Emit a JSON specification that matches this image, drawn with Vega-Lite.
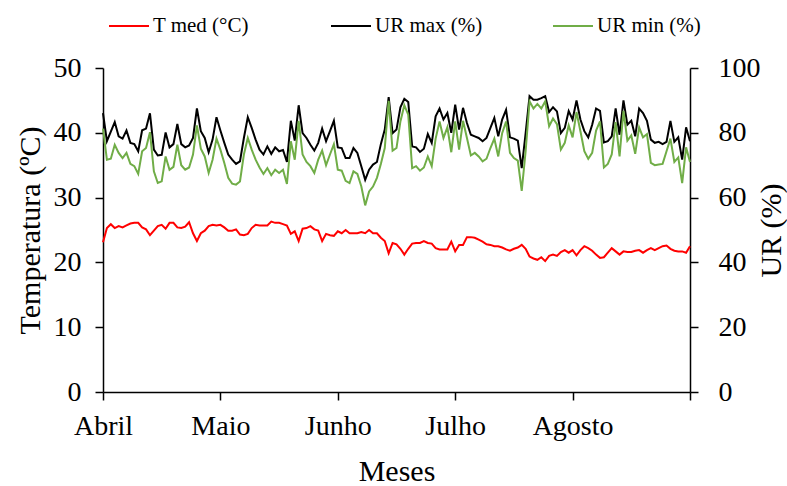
{
  "$schema": "https://vega.github.io/schema/vega-lite/v6.json",
  "width": 587,
  "height": 324,
  "autosize": {"type": "none"},
  "padding": {"left": 103, "top": 68, "right": 97, "bottom": 94},
  "background": "white",
  "config": {
    "view": {"stroke": null},
    "font": "Liberation Serif",
    "axis": {
      "grid": false,
      "domainColor": "black",
      "domainWidth": 1.5,
      "tickColor": "black",
      "tickWidth": 1.5,
      "tickSize": 8,
      "labelColor": "black",
      "titleColor": "black",
      "labelFont": "Liberation Serif",
      "titleFont": "Liberation Serif",
      "labelFontSize": 28,
      "titleFontSize": 30,
      "titleFontWeight": "normal"
    }
  },
  "data": {
    "values": [
      {"d": 0, "T": 23.1, "max": 86.1, "min": 81.3},
      {"d": 1, "T": 25.3, "max": 77.4, "min": 71.7},
      {"d": 2, "T": 25.9, "max": 80.4, "min": 72.0},
      {"d": 3, "T": 25.3, "max": 83.3, "min": 76.3},
      {"d": 4, "T": 25.6, "max": 78.9, "min": 73.8},
      {"d": 5, "T": 25.4, "max": 78.2, "min": 72.2},
      {"d": 6, "T": 25.7, "max": 80.7, "min": 73.8},
      {"d": 7, "T": 26.0, "max": 76.9, "min": 70.4},
      {"d": 8, "T": 26.1, "max": 76.5, "min": 69.7},
      {"d": 9, "T": 26.1, "max": 74.3, "min": 67.3},
      {"d": 10, "T": 25.4, "max": 80.8, "min": 74.3},
      {"d": 11, "T": 25.1, "max": 81.3, "min": 75.3},
      {"d": 12, "T": 24.2, "max": 86.0, "min": 80.2},
      {"d": 13, "T": 24.9, "max": 74.8, "min": 68.1},
      {"d": 14, "T": 25.6, "max": 73.0, "min": 64.5},
      {"d": 15, "T": 25.8, "max": 73.2, "min": 65.0},
      {"d": 16, "T": 25.2, "max": 80.1, "min": 72.7},
      {"d": 17, "T": 26.1, "max": 75.5, "min": 68.6},
      {"d": 18, "T": 26.1, "max": 76.5, "min": 69.5},
      {"d": 19, "T": 25.4, "max": 82.7, "min": 76.3},
      {"d": 20, "T": 25.3, "max": 76.5, "min": 70.0},
      {"d": 21, "T": 25.5, "max": 75.5, "min": 68.6},
      {"d": 22, "T": 26.2, "max": 76.1, "min": 69.3},
      {"d": 23, "T": 24.5, "max": 78.4, "min": 73.3},
      {"d": 24, "T": 23.3, "max": 87.5, "min": 82.3},
      {"d": 25, "T": 24.5, "max": 80.5, "min": 75.1},
      {"d": 26, "T": 24.9, "max": 78.4, "min": 72.7},
      {"d": 27, "T": 25.6, "max": 74.0, "min": 67.6},
      {"d": 28, "T": 25.8, "max": 77.9, "min": 71.7},
      {"d": 29, "T": 25.7, "max": 84.8, "min": 78.2},
      {"d": 30, "T": 25.8, "max": 80.7, "min": 74.8},
      {"d": 31, "T": 25.4, "max": 76.9, "min": 70.7},
      {"d": 32, "T": 24.9, "max": 73.3, "min": 66.1},
      {"d": 33, "T": 24.9, "max": 71.7, "min": 64.3},
      {"d": 34, "T": 25.1, "max": 70.4, "min": 64.0},
      {"d": 35, "T": 24.3, "max": 71.2, "min": 65.0},
      {"d": 36, "T": 24.2, "max": 78.4, "min": 73.3},
      {"d": 37, "T": 24.4, "max": 84.8, "min": 78.4},
      {"d": 38, "T": 25.3, "max": 81.5, "min": 74.8},
      {"d": 39, "T": 25.8, "max": 77.9, "min": 71.7},
      {"d": 40, "T": 25.7, "max": 74.8, "min": 69.3},
      {"d": 41, "T": 25.7, "max": 73.3, "min": 67.3},
      {"d": 42, "T": 25.7, "max": 75.8, "min": 69.1},
      {"d": 43, "T": 26.3, "max": 73.5, "min": 66.9},
      {"d": 44, "T": 26.1, "max": 75.5, "min": 68.6},
      {"d": 45, "T": 26.1, "max": 74.3, "min": 67.6},
      {"d": 46, "T": 25.9, "max": 74.7, "min": 68.6},
      {"d": 47, "T": 25.7, "max": 71.0, "min": 64.2},
      {"d": 48, "T": 24.4, "max": 83.7, "min": 77.4},
      {"d": 49, "T": 24.8, "max": 77.6, "min": 71.7},
      {"d": 50, "T": 23.3, "max": 88.5, "min": 83.7},
      {"d": 51, "T": 25.2, "max": 79.9, "min": 73.3},
      {"d": 52, "T": 25.3, "max": 78.4, "min": 71.0},
      {"d": 53, "T": 25.6, "max": 76.3, "min": 69.7},
      {"d": 54, "T": 25.1, "max": 74.5, "min": 67.6},
      {"d": 55, "T": 24.9, "max": 76.9, "min": 71.7},
      {"d": 56, "T": 23.3, "max": 81.3, "min": 74.5},
      {"d": 57, "T": 24.4, "max": 77.4, "min": 70.0},
      {"d": 58, "T": 24.2, "max": 80.5, "min": 73.3},
      {"d": 59, "T": 24.1, "max": 83.7, "min": 76.5},
      {"d": 60, "T": 24.8, "max": 75.5, "min": 68.6},
      {"d": 61, "T": 24.5, "max": 75.3, "min": 68.3},
      {"d": 62, "T": 25.0, "max": 72.2, "min": 65.2},
      {"d": 63, "T": 24.5, "max": 72.2, "min": 64.5},
      {"d": 64, "T": 24.5, "max": 75.3, "min": 68.1},
      {"d": 65, "T": 24.5, "max": 73.8, "min": 67.3},
      {"d": 66, "T": 24.7, "max": 69.7, "min": 63.5},
      {"d": 67, "T": 24.5, "max": 65.5, "min": 57.6},
      {"d": 68, "T": 25.0, "max": 68.6, "min": 61.9},
      {"d": 69, "T": 24.5, "max": 70.2, "min": 63.4},
      {"d": 70, "T": 24.5, "max": 71.0, "min": 66.1},
      {"d": 71, "T": 23.8, "max": 76.5, "min": 70.4},
      {"d": 72, "T": 23.3, "max": 81.0, "min": 75.3},
      {"d": 73, "T": 21.4, "max": 91.0, "min": 89.9},
      {"d": 74, "T": 23.0, "max": 79.9, "min": 74.5},
      {"d": 75, "T": 22.8, "max": 81.0, "min": 75.3},
      {"d": 76, "T": 22.1, "max": 87.9, "min": 83.5},
      {"d": 77, "T": 21.2, "max": 90.5, "min": 88.5},
      {"d": 78, "T": 22.1, "max": 89.5, "min": 85.6},
      {"d": 79, "T": 22.9, "max": 75.8, "min": 69.1},
      {"d": 80, "T": 23.0, "max": 75.5, "min": 69.7},
      {"d": 81, "T": 23.0, "max": 74.1, "min": 68.3},
      {"d": 82, "T": 23.3, "max": 75.1, "min": 69.3},
      {"d": 83, "T": 23.0, "max": 79.6, "min": 72.7},
      {"d": 84, "T": 22.9, "max": 76.9, "min": 69.7},
      {"d": 85, "T": 22.2, "max": 85.1, "min": 78.2},
      {"d": 86, "T": 22.0, "max": 87.5, "min": 83.5},
      {"d": 87, "T": 22.0, "max": 84.1, "min": 78.4},
      {"d": 88, "T": 22.0, "max": 86.1, "min": 81.7},
      {"d": 89, "T": 23.2, "max": 80.0, "min": 74.0},
      {"d": 90, "T": 21.7, "max": 88.7, "min": 83.5},
      {"d": 91, "T": 22.7, "max": 81.0, "min": 74.8},
      {"d": 92, "T": 22.7, "max": 87.7, "min": 83.7},
      {"d": 93, "T": 23.9, "max": 83.0, "min": 78.4},
      {"d": 94, "T": 23.9, "max": 79.4, "min": 73.0},
      {"d": 95, "T": 23.8, "max": 78.9, "min": 73.8},
      {"d": 96, "T": 23.5, "max": 78.4, "min": 72.7},
      {"d": 97, "T": 23.2, "max": 77.4, "min": 71.2},
      {"d": 98, "T": 22.8, "max": 78.4, "min": 72.0},
      {"d": 99, "T": 22.7, "max": 81.5, "min": 75.3},
      {"d": 100, "T": 22.5, "max": 84.6, "min": 78.2},
      {"d": 101, "T": 22.5, "max": 78.9, "min": 72.7},
      {"d": 102, "T": 22.3, "max": 84.1, "min": 79.9},
      {"d": 103, "T": 22.0, "max": 87.1, "min": 83.5},
      {"d": 104, "T": 21.8, "max": 78.6, "min": 73.8},
      {"d": 105, "T": 22.1, "max": 78.2, "min": 72.2},
      {"d": 106, "T": 22.3, "max": 77.6, "min": 71.4},
      {"d": 107, "T": 22.7, "max": 69.1, "min": 62.1},
      {"d": 108, "T": 22.1, "max": 79.9, "min": 74.3},
      {"d": 109, "T": 20.9, "max": 91.3, "min": 89.7},
      {"d": 110, "T": 20.6, "max": 90.2, "min": 87.5},
      {"d": 111, "T": 20.4, "max": 90.2, "min": 88.9},
      {"d": 112, "T": 20.8, "max": 90.7, "min": 87.5},
      {"d": 113, "T": 20.2, "max": 91.3, "min": 89.7},
      {"d": 114, "T": 21.0, "max": 86.4, "min": 82.0},
      {"d": 115, "T": 21.2, "max": 87.9, "min": 84.4},
      {"d": 116, "T": 21.0, "max": 86.6, "min": 82.7},
      {"d": 117, "T": 21.6, "max": 79.9, "min": 74.8},
      {"d": 118, "T": 21.9, "max": 81.5, "min": 76.9},
      {"d": 119, "T": 21.5, "max": 86.7, "min": 82.3},
      {"d": 120, "T": 21.9, "max": 84.1, "min": 78.6},
      {"d": 121, "T": 21.1, "max": 90.0, "min": 86.4},
      {"d": 122, "T": 21.9, "max": 84.1, "min": 80.5},
      {"d": 123, "T": 22.5, "max": 80.5, "min": 74.3},
      {"d": 124, "T": 22.2, "max": 78.6, "min": 72.0},
      {"d": 125, "T": 21.8, "max": 82.5, "min": 73.8},
      {"d": 126, "T": 21.2, "max": 87.5, "min": 80.7},
      {"d": 127, "T": 20.7, "max": 86.8, "min": 83.5},
      {"d": 128, "T": 20.8, "max": 77.0, "min": 69.3},
      {"d": 129, "T": 21.5, "max": 77.4, "min": 70.4},
      {"d": 130, "T": 22.2, "max": 78.9, "min": 73.3},
      {"d": 131, "T": 21.7, "max": 87.5, "min": 83.3},
      {"d": 132, "T": 21.2, "max": 79.4, "min": 72.7},
      {"d": 133, "T": 21.7, "max": 90.0, "min": 86.8},
      {"d": 134, "T": 21.6, "max": 82.5, "min": 77.6},
      {"d": 135, "T": 21.6, "max": 83.7, "min": 79.2},
      {"d": 136, "T": 21.8, "max": 78.9, "min": 73.5},
      {"d": 137, "T": 21.9, "max": 87.5, "min": 81.7},
      {"d": 138, "T": 21.5, "max": 86.1, "min": 78.6},
      {"d": 139, "T": 21.9, "max": 83.7, "min": 79.6},
      {"d": 140, "T": 22.2, "max": 77.9, "min": 70.7},
      {"d": 141, "T": 21.9, "max": 76.9, "min": 70.0},
      {"d": 142, "T": 22.2, "max": 77.2, "min": 70.2},
      {"d": 143, "T": 22.5, "max": 76.5, "min": 70.4},
      {"d": 144, "T": 22.6, "max": 77.2, "min": 74.3},
      {"d": 145, "T": 22.1, "max": 83.7, "min": 78.2},
      {"d": 146, "T": 21.8, "max": 77.2, "min": 71.0},
      {"d": 147, "T": 21.7, "max": 78.6, "min": 72.4},
      {"d": 148, "T": 21.7, "max": 71.7, "min": 64.5},
      {"d": 149, "T": 21.5, "max": 81.7, "min": 75.5},
      {"d": 150, "T": 22.5, "max": 77.4, "min": 71.0}
    ]
  },
  "encoding": {
    "x": {
      "field": "d",
      "type": "quantitative",
      "scale": {"domain": [0, 150], "nice": false, "zero": false},
      "axis": {
        "values": [0, 30, 60, 90, 120, 150],
        "labelExpr": "['Abril', 'Maio', 'Junho', 'Julho', 'Agosto', ''][round(datum.value / 30)]",
        "labelFlush": false,
        "labelPadding": 12,
        "title": "Meses",
        "titlePadding": 16
      }
    },
    "color": {
      "field": "serie",
      "type": "nominal",
      "scale": {"domain": ["T", "max", "min"], "range": ["#FF0000", "#000000", "#70AD47"]},
      "legend": {
        "title": null,
        "orient": "none",
        "legendX": 5,
        "legendY": -63,
        "direction": "horizontal",
        "symbolType": "stroke",
        "symbolSize": 1600,
        "symbolStrokeWidth": 2,
        "labelFont": "Liberation Serif",
        "labelFontSize": 21,
        "labelColor": "black",
        "labelOffset": 3,
        "gridAlign": "all",
        "columnPadding": 66,
        "labelExpr": "datum.label == 'T' ? 'T med (°C)' : datum.label == 'max' ? 'UR max (%)' : 'UR min (%)'"
      }
    }
  },
  "layer": [
    {
      "transform": [{"fold": ["T"], "as": ["serie", "valor"]}],
      "mark": {"type": "line", "strokeWidth": 2},
      "encoding": {
        "y": {
          "field": "valor",
          "type": "quantitative",
          "scale": {"domain": [0, 50], "nice": false},
          "axis": {
            "values": [0, 10, 20, 30, 40, 50],
            "title": "Temperatura (ºC)",
            "labelPadding": 14,
            "titlePadding": 8
          }
        }
      }
    },
    {
      "transform": [{"fold": ["max", "min"], "as": ["serie", "valor"]}],
      "mark": {"type": "line", "strokeWidth": 2},
      "encoding": {
        "y": {
          "field": "valor",
          "type": "quantitative",
          "scale": {"domain": [0, 100], "nice": false},
          "axis": {
            "orient": "right",
            "values": [0, 20, 40, 60, 80, 100],
            "title": "UR (%)",
            "titleAngle": 270,
            "labelPadding": 20,
            "titlePadding": 26
          }
        }
      }
    }
  ],
  "resolve": {"scale": {"y": "independent"}}
}
